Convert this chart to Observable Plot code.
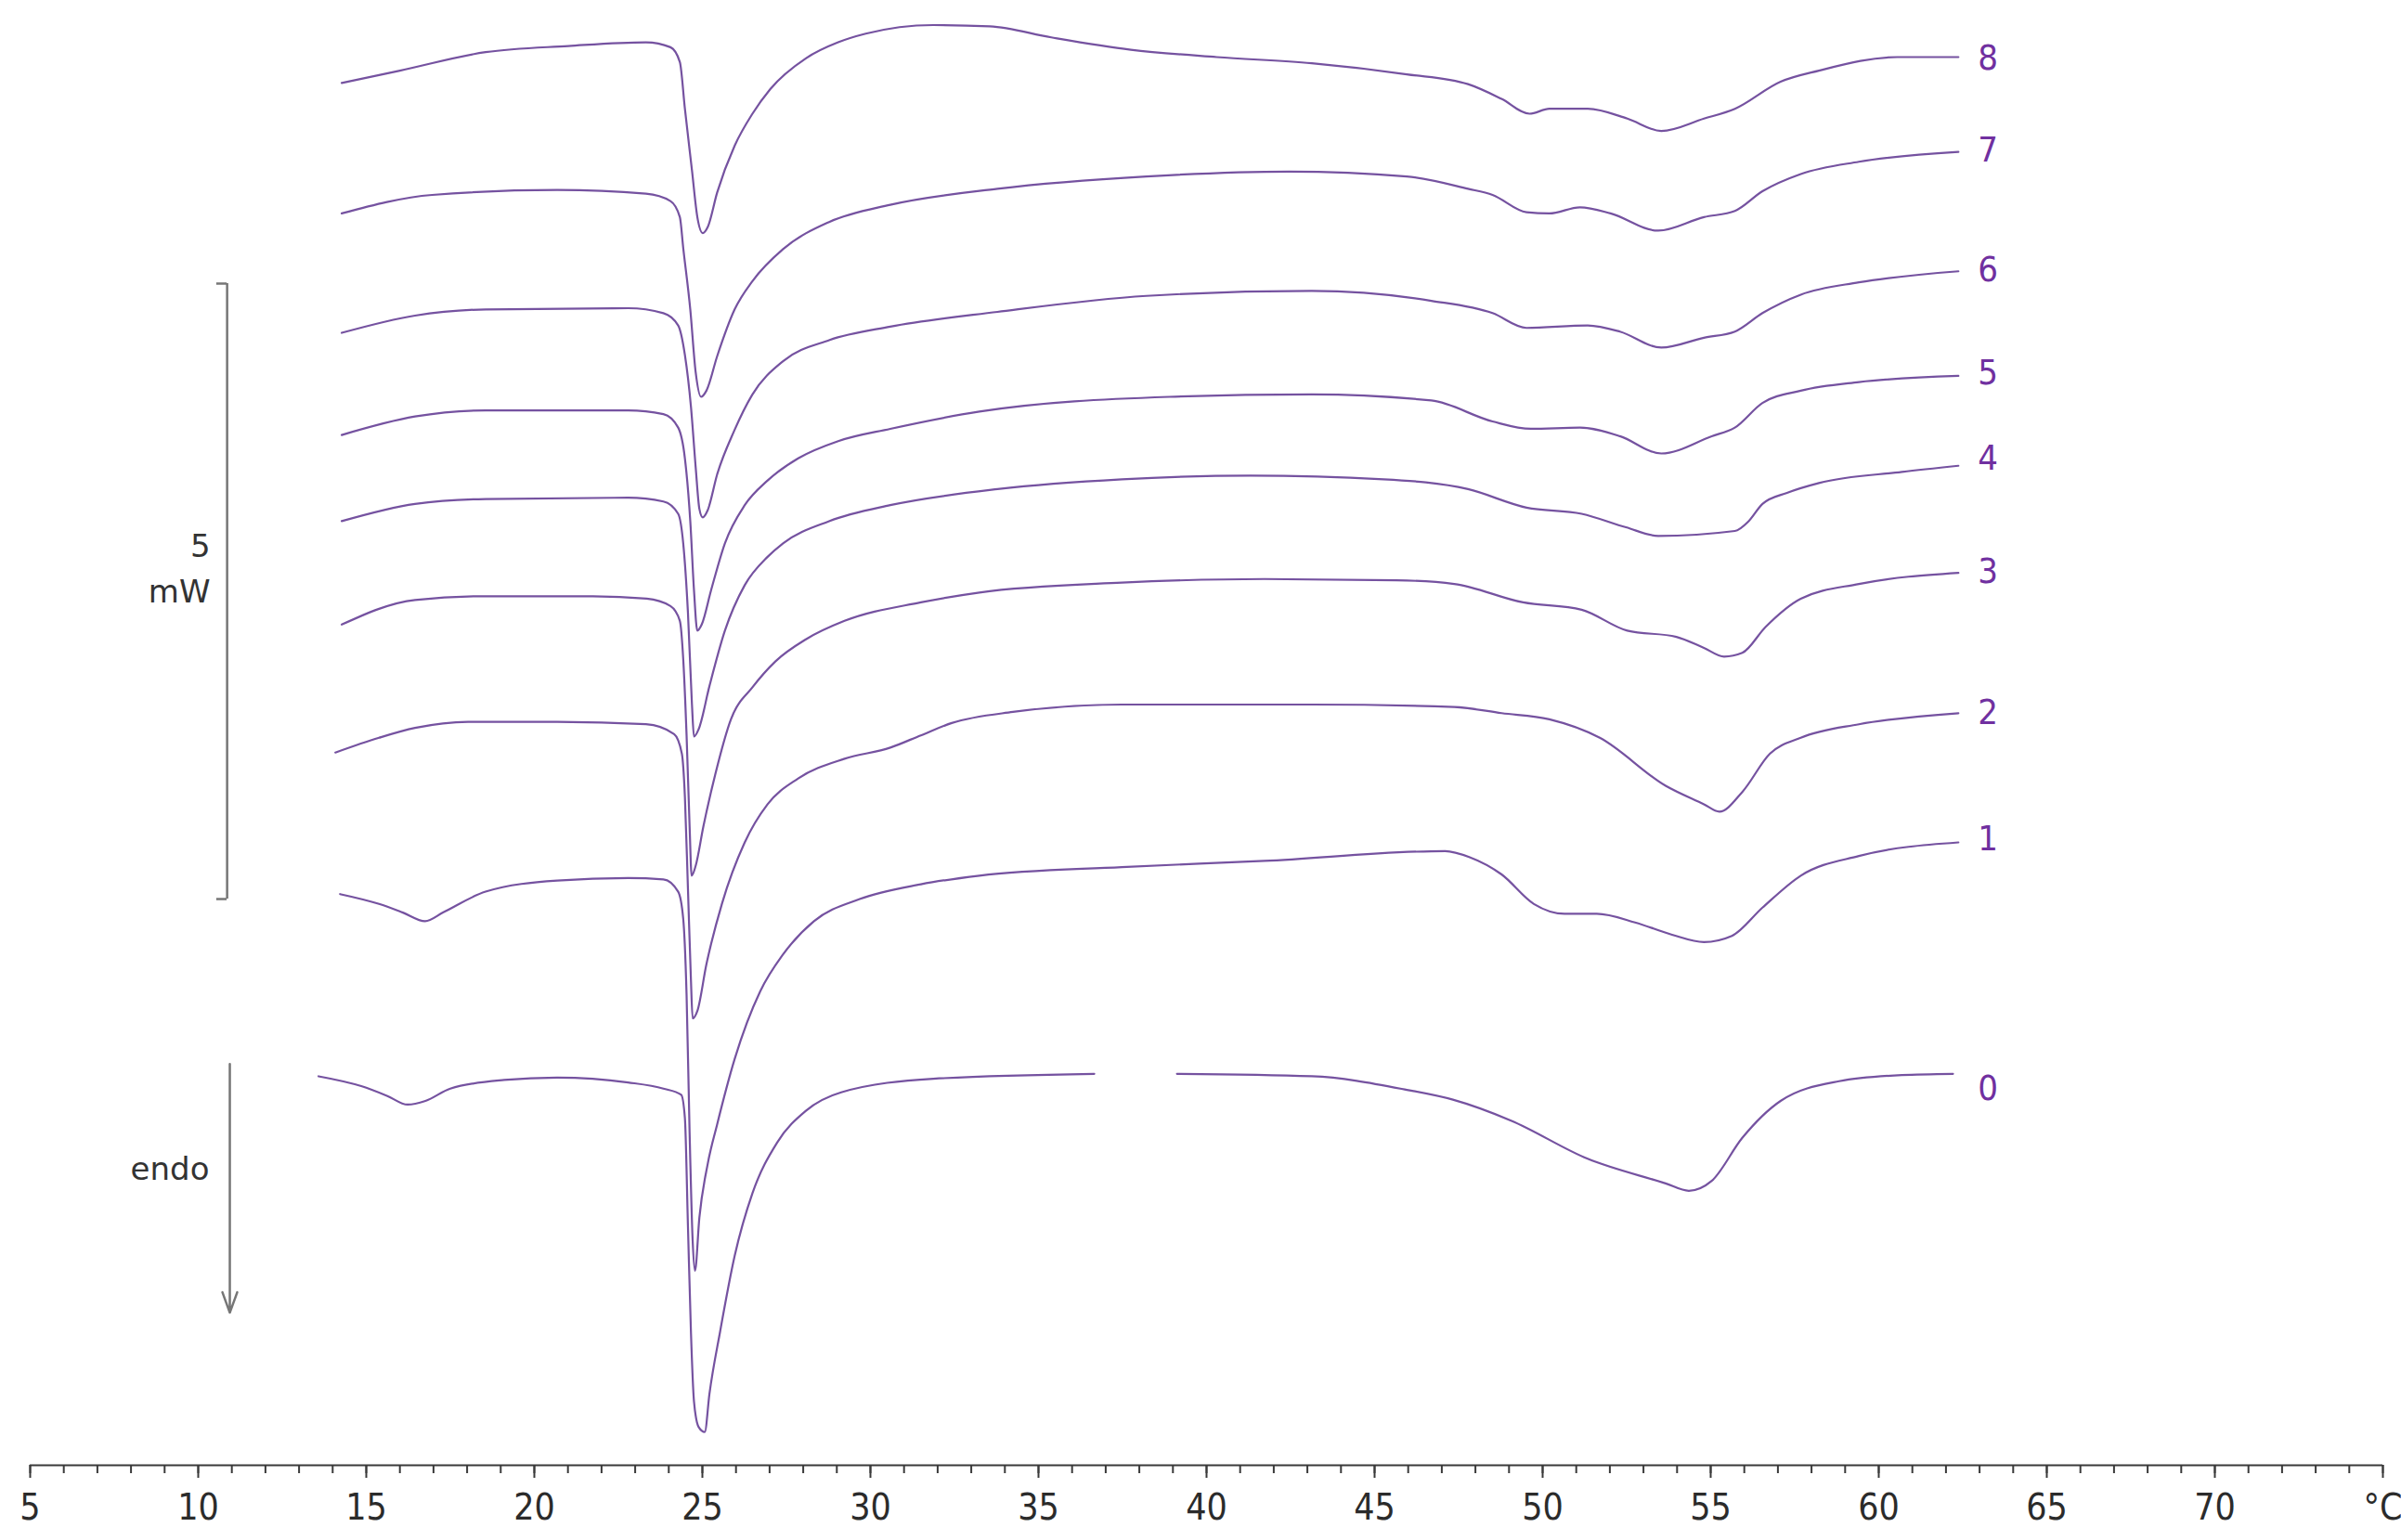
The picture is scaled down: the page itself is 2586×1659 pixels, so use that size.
<!DOCTYPE html>
<html>
<head>
<meta charset="utf-8">
<script src="https://cdn.jsdelivr.net/npm/d3@7"></script>
<script src="https://cdn.jsdelivr.net/npm/@observablehq/plot@0.6"></script>
<style>
  html, body { margin: 0; padding: 0; background: #ffffff; }
  #chart svg { display: block; }
</style>
</head>
<body>
<div id="chart"></div>
<script>
// DSC heating curves: [temperature °C, heat flow mW (stacked offsets as drawn)]
const curve0 = [[13.58,3.16],[14.85,3.08],[15.63,3.00],[16.23,2.93],[16.76,2.96],[17.50,3.06],[19.10,3.13],[20.68,3.15],[22.79,3.11],[23.84,3.06],[24.37,3.01],[24.48,2.82],[24.57,1.95],[24.66,1.08],[24.75,0.52],[24.89,0.31],[25.07,0.27],[25.21,0.58],[25.53,1.09],[25.96,1.70],[26.49,2.21],[27.22,2.62],[28.08,2.88],[29.13,3.03],[31.87,3.14],[36.66,3.18],[37.90,NaN],[39.12,3.18],[43.13,3.16],[45.96,3.05],[47.33,2.97],[49.06,2.80],[51.34,2.49],[53.66,2.29],[54.35,2.23],[55.03,2.31],[55.94,2.66],[57.08,2.96],[58.82,3.12],[60.69,3.17],[62.21,3.18]];
const curve1 = [[14.22,4.64],[15.38,4.56],[16.09,4.49],[16.75,4.42],[17.28,4.49],[18.55,4.66],[20.68,4.75],[22.79,4.77],[23.84,4.76],[24.28,4.66],[24.43,4.44],[24.53,3.82],[24.62,2.70],[24.71,1.83],[24.78,1.58],[24.91,2.01],[25.16,2.45],[25.44,2.77],[25.96,3.30],[26.72,3.85],[27.40,4.15],[28.32,4.42],[29.68,4.60],[31.50,4.72],[33.24,4.79],[37.48,4.86],[41.72,4.91],[47.10,4.99],[47.83,4.94],[48.78,4.80],[49.74,4.56],[50.65,4.48],[51.61,4.48],[52.75,4.41],[53.85,4.31],[54.80,4.25],[55.63,4.30],[56.54,4.53],[57.68,4.79],[59.41,4.95],[62.37,5.06]];
const curve2 = [[14.08,5.79],[15.38,5.91],[16.45,5.99],[18.03,6.04],[20.68,6.04],[23.32,6.02],[24.16,5.94],[24.39,5.78],[24.48,5.43],[24.57,4.69],[24.66,3.94],[24.71,3.63],[24.85,3.69],[25.12,4.07],[25.58,4.56],[26.26,5.06],[26.94,5.37],[27.85,5.58],[29.23,5.74],[30.59,5.83],[31.50,5.93],[32.42,6.03],[34.24,6.12],[37.48,6.18],[43.13,6.18],[47.37,6.16],[48.78,6.11],[50.20,6.06],[51.70,5.91],[53.66,5.52],[54.80,5.37],[55.26,5.31],[55.94,5.47],[56.76,5.78],[57.68,5.91],[59.41,6.02],[62.37,6.11]];
const curve3 = [[14.27,6.83],[16.45,7.03],[18.55,7.06],[21.74,7.06],[23.34,7.04],[24.05,6.98],[24.33,6.86],[24.43,6.55],[24.53,5.93],[24.62,5.19],[24.68,4.79],[24.80,4.87],[25.03,5.19],[25.39,5.62],[25.85,6.06],[26.49,6.32],[27.17,6.53],[28.08,6.71],[29.23,6.86],[31.50,7.01],[33.24,7.09],[37.48,7.17],[41.72,7.20],[45.64,7.19],[47.37,7.16],[49.42,7.01],[51.16,6.95],[52.52,6.78],[53.98,6.73],[54.80,6.64],[55.40,6.57],[55.94,6.60],[56.63,6.81],[57.68,7.04],[59.41,7.16],[62.37,7.25]];
const curve4 = [[14.27,7.67],[16.45,7.81],[18.55,7.85],[22.79,7.86],[23.84,7.83],[24.28,7.73],[24.43,7.49],[24.57,6.93],[24.69,6.18],[24.75,5.92],[24.89,5.98],[25.21,6.33],[25.67,6.78],[26.26,7.15],[26.94,7.38],[27.40,7.49],[28.77,7.67],[30.59,7.80],[33.78,7.93],[37.48,8.01],[41.31,8.04],[45.27,8.01],[47.78,7.93],[49.52,7.78],[51.16,7.73],[52.48,7.62],[53.44,7.55],[55.72,7.59],[56.13,7.67],[56.54,7.81],[57.27,7.90],[58.22,7.98],[60.69,8.07],[62.37,8.12]];
const curve5 = [[14.27,8.37],[16.45,8.52],[18.55,8.57],[22.79,8.57],[23.84,8.54],[24.28,8.43],[24.48,8.18],[24.64,7.67],[24.75,7.11],[24.85,6.78],[24.98,6.83],[25.26,7.11],[25.67,7.49],[26.26,7.80],[26.94,8.00],[27.85,8.18],[29.04,8.32],[30.59,8.42],[33.24,8.56],[38.89,8.68],[43.13,8.70],[46.69,8.65],[48.51,8.48],[49.65,8.42],[51.11,8.43],[52.30,8.36],[53.53,8.22],[55.03,8.36],[55.72,8.43],[56.54,8.63],[57.68,8.73],[59.41,8.80],[62.37,8.85]];
const curve6 = [[14.27,9.20],[16.45,9.34],[18.55,9.39],[22.79,9.40],[23.84,9.36],[24.28,9.26],[24.48,9.02],[24.66,8.60],[24.80,8.11],[24.91,7.77],[25.01,7.70],[25.16,7.76],[25.44,8.05],[25.94,8.40],[26.49,8.70],[27.40,8.97],[28.77,9.14],[30.59,9.25],[33.78,9.37],[38.21,9.50],[43.13,9.54],[46.69,9.46],[48.51,9.36],[49.52,9.24],[51.34,9.26],[52.30,9.21],[53.53,9.08],[54.80,9.16],[55.72,9.21],[56.54,9.36],[57.68,9.51],[59.41,9.61],[62.37,9.70]];
const curve7 = [[14.27,10.17],[16.96,10.32],[20.68,10.36],[23.32,10.33],[24.05,10.27],[24.33,10.14],[24.43,9.89],[24.64,9.39],[24.80,8.88],[24.96,8.68],[25.12,8.73],[25.44,9.01],[25.96,9.39],[26.49,9.62],[27.40,9.88],[28.77,10.10],[30.59,10.24],[33.78,10.37],[38.21,10.47],[42.45,10.51],[45.96,10.47],[47.78,10.37],[48.51,10.32],[49.52,10.18],[50.20,10.17],[51.11,10.22],[52.02,10.17],[53.44,10.03],[54.80,10.14],[55.72,10.19],[56.54,10.35],[57.68,10.49],[59.41,10.59],[62.37,10.67]];
const curve8 = [[14.27,11.23],[16.00,11.33],[18.55,11.48],[21.01,11.53],[23.32,11.56],[24.05,11.52],[24.33,11.40],[24.48,11.02],[24.69,10.52],[24.85,10.14],[25.01,10.01],[25.16,10.06],[25.44,10.34],[25.96,10.72],[26.49,10.98],[27.02,11.18],[28.08,11.43],[29.04,11.56],[29.86,11.63],[31.87,11.70],[33.55,11.69],[35.38,11.60],[37.75,11.50],[40.30,11.44],[43.13,11.39],[45.96,11.30],[47.78,11.22],[48.78,11.10],[49.61,10.98],[50.20,11.02],[51.34,11.02],[52.52,10.94],[53.53,10.84],[54.80,10.94],[55.72,11.02],[57.08,11.24],[58.22,11.33],[60.55,11.44],[62.37,11.44]];

const curveNames = ["0", "1", "2", "3", "4", "5", "6", "7", "8"];
const labelLevels = [3.06, 5.09, 6.11, 7.26, 8.18, 8.87, 9.71, 10.68, 11.43];
const majorTicks = [5, 10, 15, 20, 25, 30, 35, 40, 45, 50, 55, 60, 65, 70, 75];
const tickLabels = ["5", "10", "15", "20", "25", "30", "35", "40", "45", "50", "55", "60", "65", "70", "°C"];
const minorTicks = d3.range(5, 76, 1);

const series = [curve0, curve1, curve2, curve3, curve4, curve5, curve6, curve7, curve8];
const rows = series.flatMap((c, i) => c.map(([t, mw]) => ({curve: curveNames[i], t, mw})));
const labels = curveNames.map((name, i) => ({name, level: labelLevels[i]}));

const axisColor = "#3a3a3a";
const annotColor = "#767676";

const chart = Plot.plot({
  width: 2586,
  height: 1659,
  marginLeft: 32,
  marginRight: 20,
  marginTop: 0,
  marginBottom: 81,
  x: {domain: [5, 75], axis: null, label: null},
  y: {domain: [0, 11.9], axis: null, label: null},
  style: {background: "#ffffff", fontFamily: "DejaVu Sans Condensed", overflow: "visible"},
  marks: [
    Plot.ruleY([0], {x1: 5, x2: 75, stroke: axisColor, strokeWidth: 2.2}),
    Plot.axisX({ticks: minorTicks, tickSize: 9, tickFormat: () => "", label: null, stroke: axisColor, strokeWidth: 2}),
    Plot.axisX({
      ticks: majorTicks, tickSize: 14, tickPadding: 17, label: null,
      tickFormat: d => tickLabels[majorTicks.indexOf(d)],
      stroke: axisColor, fill: "#2b2b2b", strokeWidth: 2,
      fontSize: 39, fontFamily: "DejaVu Sans Condensed"
    }),
    Plot.line(rows, {x: "t", y: "mw", z: "curve", curve: "monotone-x", stroke: "#7552a0", strokeWidth: 2.2}),
    Plot.text(labels, {x: 63.25, y: "level", text: "name", fill: "#7030a0", fontSize: 38, fontFamily: "DejaVu Sans Condensed"}),
    // 5 mW scale bar
    Plot.ruleX([10.86], {y1: 4.6, y2: 9.6, stroke: annotColor, strokeWidth: 2.5}),
    Plot.ruleY([4.6, 9.6], {x1: 10.55, x2: 10.86, stroke: annotColor, strokeWidth: 2.5}),
    Plot.text(["5"], {x: 10.36, y: 7.46, text: d => d, textAnchor: "end", fill: "#333", fontSize: 34, fontFamily: "DejaVu Sans"}),
    Plot.text(["mW"], {x: 10.36, y: 7.09, text: d => d, textAnchor: "end", fill: "#333", fontSize: 34, fontFamily: "DejaVu Sans"}),
    // endo arrow
    Plot.arrow([0], {x1: 10.94, x2: 10.94, y1: 3.26, y2: 1.24, stroke: annotColor, strokeWidth: 2.5, headLength: 14, headAngle: 40}),
    Plot.text(["endo"], {x: 10.33, y: 2.40, text: d => d, textAnchor: "end", fill: "#333", fontSize: 34, fontFamily: "DejaVu Sans"})
  ]
});

document.getElementById("chart").appendChild(chart);
</script>
</body>
</html>
